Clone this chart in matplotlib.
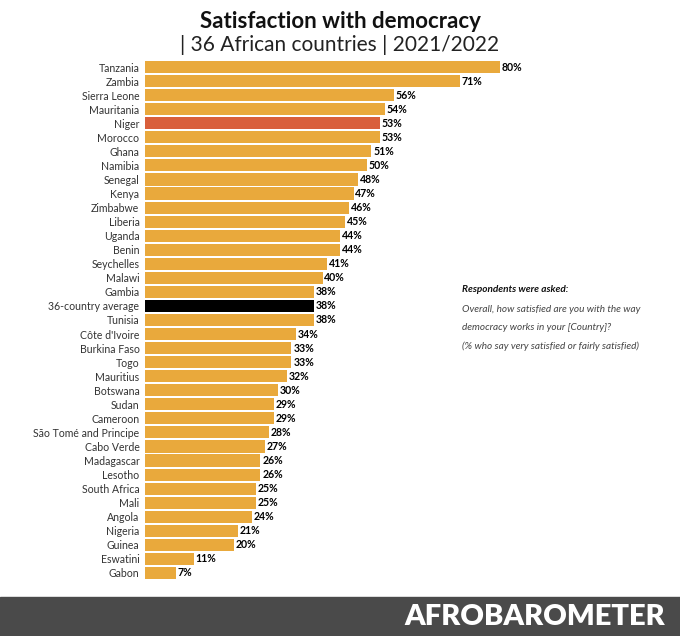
import matplotlib
matplotlib.use('Agg')
import matplotlib.pyplot as plt
from matplotlib.patches import Rectangle

plt.rcParams['font.family'] = ['Lato', 'DejaVu Sans']

countries = ['Tanzania', 'Zambia', 'Sierra Leone', 'Mauritania', 'Niger', 'Morocco', 'Ghana',
             'Namibia', 'Senegal', 'Kenya', 'Zimbabwe', 'Liberia', 'Uganda', 'Benin',
             'Seychelles', 'Malawi', 'Gambia', '36-country average', 'Tunisia', "Côte d'Ivoire",
             'Burkina Faso', 'Togo', 'Mauritius', 'Botswana', 'Sudan', 'Cameroon',
             'São Tomé and Principe', 'Cabo Verde', 'Madagascar', 'Lesotho', 'South Africa',
             'Mali', 'Angola', 'Nigeria', 'Guinea', 'Eswatini', 'Gabon']
values = [80, 71, 56, 54, 53, 53, 51, 50, 48, 47, 46, 45, 44, 44, 41, 40, 38, 38, 38, 34,
          33, 33, 32, 30, 29, 29, 28, 27, 26, 26, 25, 25, 24, 21, 20, 11, 7]

orange = '#E9A93C'
colors = []
for c in countries:
    if c == 'Niger':
        colors.append('#D95F3B')
    elif c == '36-country average':
        colors.append('black')
    else:
        colors.append(orange)

fig = plt.figure(figsize=(6.8, 6.36), dpi=100)
ax = fig.add_axes([145 / 680, 1 - 580 / 636, 443.75 / 680, 520 / 636])

y = list(range(len(countries)))
ax.barh(y, values, height=0.86, color=colors)
ax.set_xlim(0, 100)
ax.set_ylim(len(countries) - 0.5, -0.5)
ax.set_yticks(y)
ax.set_yticklabels(countries, fontsize=7.6, color='#333333')
ax.tick_params(axis='y', length=0, pad=4)
ax.set_xticks([])
for s in ax.spines.values():
    s.set_visible(False)

for i, v in enumerate(values):
    ax.text(v + 0.4, i, f'{v}%', va='center', ha='left', fontsize=7.6, fontweight='bold')

fig.text(0.5, 1 - 22 / 636, 'Satisfaction with democracy', ha='center', va='center',
         fontsize=16, fontweight='bold', color='#111111')
fig.text(0.5, 1 - 45 / 636, '| 36 African countries | 2021/2022', ha='center', va='center',
         fontsize=15, color='#222222')

nx = 462 / 680
fig.text(nx, 1 - 289 / 636, 'Respondents were asked:', fontsize=7.2, fontweight='bold',
         style='italic', va='center', color='#111111')
fig.text(nx, 1 - 309 / 636, 'Overall, how satisfied are you with the way', fontsize=7.2,
         style='italic', va='center', color='#444444')
fig.text(nx, 1 - 327 / 636, 'democracy works in your [Country]?', fontsize=7.2,
         style='italic', va='center', color='#444444')
fig.text(nx, 1 - 346 / 636, '(% who say very satisfied or fairly satisfied)', fontsize=7.2,
         style='italic', va='center', color='#444444')

# footer band
fig.patches.append(Rectangle((0, 0), 1, 39 / 636, transform=fig.transFigure,
                             color='#4a4a4a', zorder=0))
fig.text(665 / 680, 1 - 617 / 636, 'AFROBAROMETER', ha='right', va='center',
         fontsize=21, fontweight='heavy', color='white')

fig.savefig('out.png', dpi=100)
